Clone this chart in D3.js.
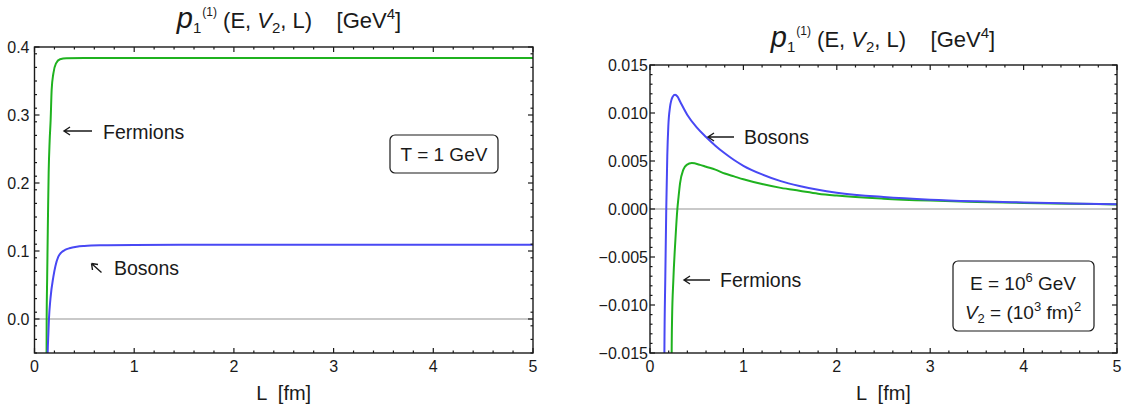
<!DOCTYPE html>
<html>
<head>
<meta charset="utf-8">
<script src="https://cdn.jsdelivr.net/npm/d3@7"></script>
<style>
  html, body { margin: 0; padding: 0; background: #fff; }
  svg { display: block; font-family: "Liberation Sans", Arial, sans-serif; }
</style>
</head>
<body>
<svg id="chart" width="1123" height="412"></svg>
<script>
// ---- data: p1^(1)(E, V2, L) versus L [fm] ----

// Left panel, T = 1 GeV
const leftFermions = [
  [0.118, -0.08], [0.121, -0.05], [0.122, 0.0], [0.127, 0.06], [0.132, 0.116],
  [0.137, 0.17], [0.142, 0.215], [0.152, 0.262], [0.162, 0.293], [0.172, 0.337],
  [0.189, 0.361], [0.216, 0.376], [0.256, 0.382], [0.32, 0.3835], [0.5, 0.3837],
  [1, 0.3838], [2, 0.3838], [3, 0.3838], [4, 0.3838], [5, 0.3838]
];
const leftBosons = [
  [0.128, -0.08], [0.132, -0.05], [0.139, -0.022], [0.145, 0.0], [0.16, 0.03],
  [0.189, 0.062], [0.21, 0.078], [0.239, 0.0916], [0.27, 0.098], [0.306, 0.1015],
  [0.35, 0.104], [0.423, 0.1063], [0.5, 0.1075], [0.657, 0.1085], [1, 0.109],
  [2, 0.1092], [3, 0.1092], [4, 0.1092], [5, 0.1092]
];

// Right panel, E = 10^6 GeV, V2 = (10^3 fm)^2
const rightBosons = [
  [0.150, -0.025], [0.154, -0.015], [0.164, -0.007], [0.174, 0.0], [0.185, 0.0055],
  [0.196, 0.0086], [0.214, 0.0106], [0.243, 0.0117], [0.268, 0.0119], [0.295, 0.0117],
  [0.322, 0.0112], [0.4, 0.0098], [0.5, 0.0085], [0.6, 0.0075], [0.7, 0.0066],
  [0.8, 0.0058], [0.9, 0.0051], [1.0, 0.0045], [1.2, 0.0036], [1.4, 0.0029],
  [1.6, 0.0024], [1.8, 0.002], [2.0, 0.0017], [2.5, 0.00125], [3, 0.00097],
  [3.5, 0.0008], [4, 0.00068], [4.5, 0.00058], [5, 0.0005]
];
const rightFermions = [
  [0.228, -0.025], [0.232, -0.015], [0.236, -0.0116], [0.25, -0.0074], [0.272, -0.0032],
  [0.293, 0.0], [0.304, 0.0011], [0.322, 0.0027], [0.357, 0.0041], [0.393, 0.0046],
  [0.447, 0.00478], [0.536, 0.0046], [0.6, 0.0044], [0.7, 0.0041], [0.8, 0.0037],
  [0.9, 0.0034], [1.0, 0.0031], [1.2, 0.0026], [1.4, 0.0022], [1.6, 0.0019],
  [1.8, 0.0016], [2.0, 0.0014], [2.5, 0.00108], [3, 0.00088], [3.5, 0.00074],
  [4, 0.00063], [4.5, 0.00055], [5, 0.00048]
];

// Axis ticks
const xMajor = [0, 1, 2, 3, 4, 5];
const leftYMajor = [0.0, 0.1, 0.2, 0.3, 0.4];
const leftYLabels = ["0.0", "0.1", "0.2", "0.3", "0.4"];
const rightYMajor = [-0.015, -0.010, -0.005, 0.0, 0.005, 0.010, 0.015];
const rightYLabels = ["\u22120.015", "\u22120.010", "\u22120.005", "0.000", "0.005", "0.010", "0.015"];

const BLUE = "#4848f4";
const GREEN = "#1fb21f";
const INK = "#1a1a1a";

const svg = d3.select("#chart");

function arrowLeft(g, x1, x2, y) {
  // long left-pointing arrow with an open head
  g.append("path")
    .attr("d", `M${x2},${y}H${x1} M${x1 + 6},${y - 4}L${x1},${y}L${x1 + 6},${y + 4}`)
    .attr("fill", "none").attr("stroke", INK).attr("stroke-width", 1.4);
}

function drawPanel(cfg) {
  const x = d3.scaleLinear().domain([0, 5]).range([cfg.left, cfg.right]);
  const y = d3.scaleLinear().domain(cfg.yDomain).range([cfg.bottom, cfg.top]);
  const g = svg.append("g");
  const clipId = "clip-" + cfg.id;

  g.append("clipPath").attr("id", clipId)
    .append("rect")
    .attr("x", cfg.left).attr("y", cfg.top)
    .attr("width", cfg.right - cfg.left).attr("height", cfg.bottom - cfg.top);

  // zero reference line
  g.append("line")
    .attr("x1", cfg.left).attr("x2", cfg.right)
    .attr("y1", y(0)).attr("y2", y(0))
    .attr("stroke", "#949494").attr("stroke-width", 1.2);

  // curves
  const line = d3.line().x(d => x(d[0])).y(d => y(d[1])).curve(d3.curveMonotoneX);
  const curves = g.append("g").attr("clip-path", `url(#${clipId})`);
  cfg.series.forEach(s => {
    curves.append("path")
      .datum(s.data)
      .attr("d", line)
      .attr("fill", "none")
      .attr("stroke", s.color)
      .attr("stroke-width", 2);
  });

  // frame ticks on all four sides, pointing inward
  const xMinor = d3.range(0, 5.0001, 0.2).filter(v => Math.abs(v - Math.round(v)) > 1e-6);
  const yMinor = d3.range(cfg.yDomain[0], cfg.yDomain[1] + cfg.yMinorStep / 2, cfg.yMinorStep)
    .filter(v => !cfg.yMajor.some(m => Math.abs(m - v) < cfg.yMinorStep / 4));

  const tickG = g.append("g").attr("stroke", INK).attr("stroke-width", 1.2);
  const addX = (vals, len) => vals.forEach(v => {
    tickG.append("line").attr("x1", x(v)).attr("x2", x(v))
      .attr("y1", cfg.bottom).attr("y2", cfg.bottom - len);
    tickG.append("line").attr("x1", x(v)).attr("x2", x(v))
      .attr("y1", cfg.top).attr("y2", cfg.top + len);
  });
  const addY = (vals, len) => vals.forEach(v => {
    tickG.append("line").attr("y1", y(v)).attr("y2", y(v))
      .attr("x1", cfg.left).attr("x2", cfg.left + len);
    tickG.append("line").attr("y1", y(v)).attr("y2", y(v))
      .attr("x1", cfg.right).attr("x2", cfg.right - len);
  });
  addX(xMajor, 5); addX(xMinor, 2.5);
  addY(cfg.yMajor, 5); addY(yMinor, 2.5);

  // frame
  g.append("rect")
    .attr("x", cfg.left).attr("y", cfg.top)
    .attr("width", cfg.right - cfg.left).attr("height", cfg.bottom - cfg.top)
    .attr("fill", "none").attr("stroke", INK).attr("stroke-width", 1.4);

  // tick labels
  g.append("g").selectAll("text").data(xMajor).join("text")
    .attr("x", d => x(d)).attr("y", 372)
    .attr("text-anchor", "middle").attr("font-size", 16).attr("fill", INK)
    .text(d => d);
  g.append("g").selectAll("text").data(cfg.yMajor).join("text")
    .attr("x", cfg.left - cfg.labelGap).attr("y", d => y(d) + 5.5)
    .attr("text-anchor", "end").attr("font-size", 16).attr("fill", INK)
    .text((d, i) => cfg.yLabels[i]);

  // axis label
  g.append("text")
    .attr("x", (cfg.left + cfg.right) / 2).attr("y", 400)
    .attr("text-anchor", "middle").attr("font-size", 20).attr("fill", INK)
    .attr("xml:space", "preserve")
    .text("L  [fm]");

  // plot title: p_1^(1) (E, V_2, L)   [GeV^4]
  const t = g.append("text")
    .attr("x", cfg.titleX).attr("y", cfg.titleY)
    .attr("text-anchor", "middle").attr("font-size", 22).attr("fill", INK)
    .attr("xml:space", "preserve");
  t.append("tspan").attr("font-style", "italic").attr("font-size", 29).text("p");
  t.append("tspan").attr("font-size", 15).attr("dy", 5).text("1");
  t.append("tspan").attr("font-size", 12).attr("dy", -17).attr("dx", 1).text("(1)");
  t.append("tspan").attr("dy", 12).text(" (E, ");
  t.append("tspan").attr("font-style", "italic").text("V");
  t.append("tspan").attr("font-size", 15).attr("dy", 5).text("2");
  t.append("tspan").attr("dy", -5).text(", L)    [GeV");
  t.append("tspan").attr("font-size", 15).attr("dy", -9).text("4");
  t.append("tspan").attr("dy", 9).text("]");

  return { g, x, y };
}

// ---- left panel ----
const P1 = drawPanel({
  id: "left", left: 34.5, right: 533, top: 47, bottom: 353,
  yDomain: [-0.05, 0.4], yMajor: leftYMajor, yLabels: leftYLabels, yMinorStep: 0.02,
  labelGap: 5, titleX: 289, titleY: 28,
  series: [{ data: leftFermions, color: GREEN }, { data: leftBosons, color: BLUE }]
});

// annotations
arrowLeft(P1.g, 64, 92, 131);
P1.g.append("text").attr("x", 103).attr("y", 139).attr("font-size", 19.5).attr("fill", INK).text("Fermions");
P1.g.append("path")
  .attr("d", "M101.5,272.5L91.5,263.5 M91.5,263.5L98,264.5 M91.5,263.5L92.5,270")
  .attr("fill", "none").attr("stroke", INK).attr("stroke-width", 1.4);
P1.g.append("text").attr("x", 114).attr("y", 275).attr("font-size", 19.5).attr("fill", INK).text("Bosons");

P1.g.append("rect").attr("x", 390).attr("y", 135).attr("width", 108).attr("height", 38)
  .attr("rx", 5).attr("fill", "#fff").attr("stroke", INK).attr("stroke-width", 1.2);
P1.g.append("text").attr("x", 444).attr("y", 161).attr("text-anchor", "middle")
  .attr("font-size", 19).attr("fill", INK).text("T = 1 GeV");

// ---- right panel ----
const P2 = drawPanel({
  id: "right", left: 650, right: 1117, top: 65, bottom: 353,
  yDomain: [-0.015, 0.015], yMajor: rightYMajor, yLabels: rightYLabels, yMinorStep: 0.001,
  labelGap: 2, titleX: 883, titleY: 47,
  series: [{ data: rightFermions, color: GREEN }, { data: rightBosons, color: BLUE }]
});

arrowLeft(P2.g, 708, 734, 137);
P2.g.append("text").attr("x", 744).attr("y", 144).attr("font-size", 19.5).attr("fill", INK).text("Bosons");
arrowLeft(P2.g, 684, 710, 280);
P2.g.append("text").attr("x", 720).attr("y", 287).attr("font-size", 19.5).attr("fill", INK).text("Fermions");

P2.g.append("rect").attr("x", 953).attr("y", 261).attr("width", 141).attr("height", 70)
  .attr("rx", 5).attr("fill", "#fff").attr("stroke", INK).attr("stroke-width", 1.2);
const e1 = P2.g.append("text").attr("x", 1023).attr("y", 290).attr("text-anchor", "middle")
  .attr("font-size", 19).attr("fill", INK).attr("xml:space", "preserve");
e1.append("tspan").text("E = 10");
e1.append("tspan").attr("font-size", 13).attr("dy", -8).text("6");
e1.append("tspan").attr("dy", 8).text(" GeV");
const e2 = P2.g.append("text").attr("x", 1023).attr("y", 319).attr("text-anchor", "middle")
  .attr("font-size", 19).attr("fill", INK).attr("xml:space", "preserve");
e2.append("tspan").attr("font-style", "italic").text("V");
e2.append("tspan").attr("font-size", 13).attr("dy", 4).text("2");
e2.append("tspan").attr("dy", -4).text(" = (10");
e2.append("tspan").attr("font-size", 13).attr("dy", -8).text("3");
e2.append("tspan").attr("dy", 8).text(" fm)");
e2.append("tspan").attr("font-size", 13).attr("dy", -8).text("2");
</script>
</body>
</html>
